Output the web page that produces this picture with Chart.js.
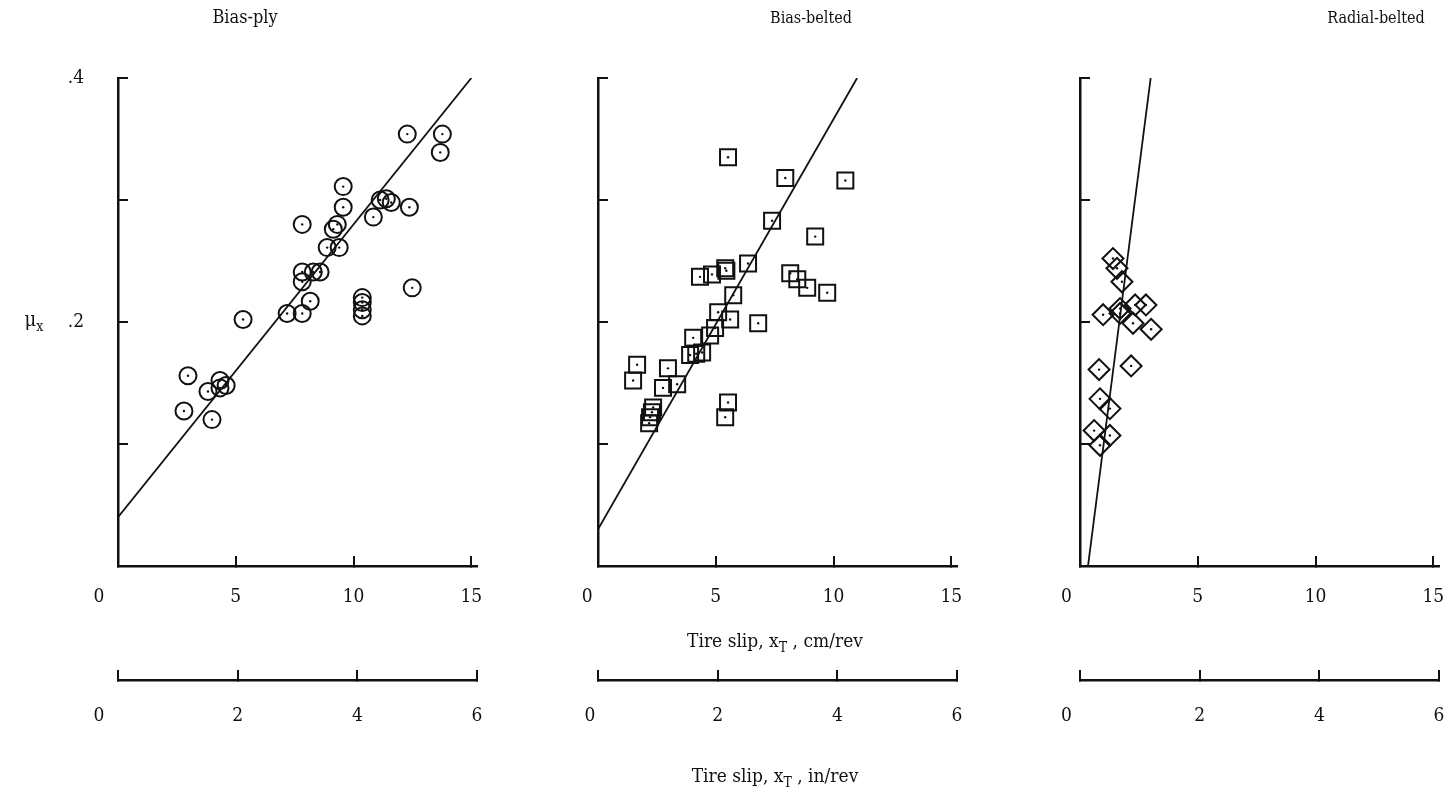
<!DOCTYPE html>
<html>
<head>
<meta charset="utf-8">
<script src="https://cdn.jsdelivr.net/npm/chart.js@4.4.1/dist/chart.umd.min.js"></script>
<style>
  html, body { margin:0; padding:0; background:#fff; width:1456px; height:796px; overflow:hidden; position:relative; }
  canvas { position:absolute; top:0; }
  .t { position:absolute; font-family:"DejaVu Serif Condensed", "DejaVu Serif", serif; font-size:18px; color:#111; white-space:nowrap; transform:translateX(-50%); }
  .t sub { font-size:14px; vertical-align:-5px; line-height:0; }
</style>
</head>
<body>
<canvas id="c1" width="523" height="796" style="left:0px"></canvas>
<canvas id="c2" width="503" height="796" style="left:500px"></canvas>
<canvas id="c3" width="505" height="796" style="left:980px"></canvas>

<div class="t" style="left:245px; top:6px;">Bias-ply</div>
<div class="t" style="left:811px; top:8px; font-size:16px;">Bias-belted</div>
<div class="t" style="left:1376px; top:8px; font-size:16px;">Radial-belted</div>
<div class="t" style="left:34px; top:307px; font-size:20px;">μ<sub>x</sub></div>
<div class="t" style="left:775px; top:629px; font-size:19px;">Tire slip, x<sub>T</sub> , cm/rev</div>
<div class="t" style="left:775px; top:764px; font-size:19px;">Tire slip, x<sub>T</sub> , in/rev</div>

<script>
// ---------- data ----------
const cmTicks = [0, 5, 10, 15];
const inTicks = [0, 2, 4, 6];
const yTicks = [0, 0.1, 0.2, 0.3, 0.4];
const yLabelsShown = [0.2, 0.4];

// Bias-ply (circles)
const biasPlyX = [2.80,2.97,3.99,3.82,4.33,4.33,4.59,5.31,7.18,7.82,8.16,7.82,7.82,8.29,8.58,8.88,9.39,9.14,9.31,7.82,9.56,9.56,10.84,11.13,11.39,11.60,12.37,12.28,13.77,13.68,12.49,10.37,10.37,10.37,10.37];
const biasPlyY = [0.127,0.156,0.120,0.143,0.146,0.152,0.148,0.202,0.207,0.207,0.217,0.233,0.241,0.241,0.241,0.261,0.261,0.276,0.280,0.280,0.294,0.311,0.286,0.300,0.301,0.298,0.294,0.354,0.354,0.339,0.228,0.220,0.216,0.210,0.205];
const biasPlyFitX = [0, 15];
const biasPlyFitY = [0.04, 0.40];

// Bias-belted (squares)
const biasBeltedX = [5.52,7.95,10.50,7.39,9.22,6.37,5.40,5.45,4.84,4.33,8.16,8.46,8.88,9.73,5.74,5.10,5.61,6.80,4.97,4.76,4.04,3.91,4.42,4.17,1.66,1.49,2.97,3.36,2.76,2.34,2.29,2.21,2.17,5.52,5.40];
const biasBeltedY = [0.335,0.318,0.316,0.283,0.270,0.248,0.244,0.242,0.239,0.237,0.240,0.235,0.228,0.224,0.222,0.208,0.202,0.199,0.195,0.189,0.187,0.173,0.175,0.174,0.165,0.152,0.162,0.149,0.146,0.130,0.126,0.122,0.117,0.134,0.122];
const biasBeltedFitX = [0, 11.0];
const biasBeltedFitY = [0.03, 0.40];

// Radial-belted (diamonds)
const radialX = [1.40,1.57,1.78,0.98,1.70,1.70,2.34,2.80,2.25,3.02,0.81,2.17,0.85,1.27,0.60,1.27,0.85];
const radialY = [0.252,0.244,0.233,0.206,0.211,0.207,0.214,0.214,0.199,0.194,0.161,0.164,0.137,0.129,0.111,0.107,0.099];
const radialFitX = [0.34, 3.0];
const radialFitY = [0, 0.40];

// ---------- helpers ----------
const pts = (xs, ys) => xs.map((x, i) => ({x: x, y: ys[i]}));
const FONT = {family: '"DejaVu Serif Condensed", "DejaVu Serif", serif', size: 19};
const INK = '#111';

function makeChart(id, cfg) {
  const gridOpts = {drawOnChartArea:false, drawTicks:true, tickLength:-10, color:INK, lineWidth:2};
  const border = {display:true, color:INK, width:2.5};
  const zeroLabel = (pad) => '0' + ' '.repeat(pad);
  new Chart(document.getElementById(id), {
    type: 'scatter',
    data: {
      datasets: [
        {data: pts(cfg.x, cfg.y), pointStyle: cfg.style, pointRadius: cfg.r, pointHoverRadius: cfg.r,
         borderColor: INK, backgroundColor: 'rgba(0,0,0,0)', pointBorderWidth: 2},
        {data: pts(cfg.x, cfg.y), pointStyle: 'circle', pointRadius: 1.2, pointBorderWidth: 0,
         backgroundColor: INK, borderColor: INK},
        {data: pts(cfg.fx, cfg.fy), showLine: true, pointRadius: 0, borderColor: INK, borderWidth: 1.8}
      ]
    },
    options: {
      responsive: false,
      animation: false,
      events: [],
      layout: {padding: {left: 0, right: 46, top: 78, bottom: 56}},
      plugins: {legend: {display:false}, tooltip: {enabled:false}},
      scales: {
        x: {
          type: 'linear', position: 'bottom', weight: 0, min: 0, max: 15.24,
          afterBuildTicks: s => { s.ticks = cmTicks.map(v => ({value: v})); },
          afterFit: s => { s.height = 114; },
          grid: gridOpts, border: border,
          ticks: {padding: 30, color: INK, font: FONT, maxRotation: 0, autoSkip: false,
                  callback: v => v === 0 ? zeroLabel(cfg.z1) : String(v)}
        },
        x2: {
          type: 'linear', position: 'bottom', weight: 1, min: 0, max: 6,
          afterBuildTicks: s => { s.ticks = inTicks.map(v => ({value: v})); },
          afterFit: s => { s.height = 60; },
          grid: gridOpts, border: border,
          ticks: {padding: 35, color: INK, font: FONT, maxRotation: 0, autoSkip: false,
                  callback: v => v === 0 ? zeroLabel(cfg.z2) : String(v)}
        },
        y: {
          type: 'linear', position: 'left', min: 0, max: 0.4,
          afterBuildTicks: s => { s.ticks = yTicks.map(v => ({value: v})); },
          afterFit: s => { s.width = cfg.yW; },
          grid: gridOpts, border: border,
          ticks: {padding: 44, color: INK, font: FONT, autoSkip: false,
                  callback: v => (cfg.yLabels && yLabelsShown.some(t => Math.abs(t - v) < 1e-9)) ? String(v).replace(/^0/, '') : ''}
        }
      }
    }
  });
}

makeChart('c1', {x: biasPlyX, y: biasPlyY, fx: biasPlyFitX, fy: biasPlyFitY, style: 'circle', r: 8.5,
                 yW: 118, z1: 7, z2: 7, yLabels: true});
makeChart('c2', {x: biasBeltedX, y: biasBeltedY, fx: biasBeltedFitX, fy: biasBeltedFitY, style: 'rect', r: 11.3,
                 yW: 98, z1: 4, z2: 3, yLabels: false});
makeChart('c3', {x: radialX, y: radialY, fx: radialFitX, fy: radialFitY, style: 'rectRot', r: 10.5,
                 yW: 100, z1: 5, z2: 5, yLabels: false});
</script>
</body>
</html>
